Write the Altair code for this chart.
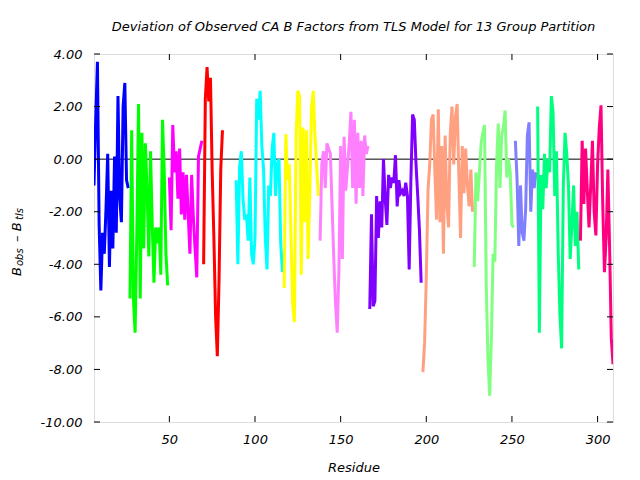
import altair as alt
import pandas as pd

# ---- data ----
group_names = ["G1", "G2", "G3", "G4", "G5", "G6", "G7", "G8", "G9", "G10", "G11", "G12", "G13"]
group_colors = ["#0000ff", "#00ff00", "#ff00ff", "#ff0000", "#00ffff", "#ffff00", "#ff80ff",
                "#8000ff", "#ffa080", "#80ff80", "#8080ff", "#00ff80", "#ff0080"]
group_start = [6, 27, 50, 70, 89, 117, 138, 167, 198, 228, 252, 265, 290]

g1 = [-1.0, 1.5, 3.7, -2.5, -5.0, -2.8, -3.6, -1.9, 0.2, -4.1, -1.2, -3.4, 0.1, -2.8, 2.4, -1.5, -2.4, 2.0, 2.9, -0.8, -1.1]
g2 = [-5.3, 1.1, -5.3, -6.6, -2.8, 2.1, -5.3, 1.0, -3.4, 0.6, -1.2, -3.7, 0.3, -2.5, -4.7, -2.6, -3.2, -2.6, -4.4, 1.5, -0.5, -3.6, -4.8]
g3 = [-0.7, -2.7, 1.3, -0.5, 0.3, -1.5, 0.4, -2.1, -0.5, -2.3, -0.6, -2.1, -3.6, -0.6, -2.2, -3.4, -4.5, 0.1, 0.4, 0.7]
g4 = [-4.0, 2.3, 3.5, 2.2, 3.1, -0.5, -3.0, -6.0, -7.5, -4.6, -0.4, 1.1]
g5 = [-0.8, -4.0, -0.3, 0.3, -1.5, -2.3, -2.1, -3.1, -0.7, -3.6, -4.0, -3.0, 2.3, 1.5, 2.6, 0.5, -0.4, -3.0, -4.2, -1.0, -1.4, 0.4, 1.0, -1.4, -0.2, 0.0, -3.2, -4.3]
g6 = [-4.9, 0.95, -0.8, -0.2, -2.9, -5.5, -6.2, 0.9, 2.6, 2.4, -4.4, 1.2, -2.4, 1.1, -3.8, -1.2, 2.0, 2.6, 0.9, -0.3, -1.4]
g7 = [-3.1, -0.2, 0.3, -1.1, 0.6, 0.4, 0.2, -1.8, -3.8, -5.5, -6.6, -4.2, 0.5, -3.8, 0.85, -1.2, -0.3, 0.6, 1.8, -1.1, 1.5, -1.7, 1.0, -1.1, 0.7, -1.4, 0.9, 0.2, 0.5]
g8 = [-5.7, -2.1, -5.6, -5.4, -1.4, -3.0, -1.6, -2.6, 0.0, -1.5, -2.5, -0.6, -1.1, -0.7, -0.9, 0.15, -1.8, -0.8, -1.3, -1.2, -1.4, -0.9, -1.4, -4.2, -0.8, 1.7, 1.5, -0.2, -1.4, -2.7, -4.7]
g9 = [-8.1, -7.0, -4.5, -1.2, -0.2, 1.5, 1.7, -0.5, -2.3, 1.9, -2.4, 0.5, -3.6, 0.9, -1.7, -2.6, 1.0, 2.0, -0.2, 1.6, 2.1, -0.6, -3.0, 0.5, -1.3, 0.4, -1.0, -1.8, -0.4, -2.0]
g10 = [-4.1, -0.5, -1.6, -0.5, 0.6, 1.0, 1.3, -4.8, -7.6, -9.0, -6.8, -3.6, -3.9, -0.3, 1.35, -1.1, 0.9, 1.2, 1.85, -0.7, 0.0, -0.5, -2.5, -2.6]
g11 = [0.7, -0.8, -3.3, -1.0, -2.8, -3.1, -1.9, 0.9, 1.4, -2.0, -0.4, -1.1, -0.5]
g12 = [2.0, -6.6, -0.6, -1.9, 0.2, -1.1, 0.0, -0.5, 2.4, 1.8, -1.4, 0.3, -3.5, -5.9, -7.2, -1.0, 1.0, 0.2, -1.0, -3.8, -2.5, -1.0, -3.3, -2.0, -4.2]
g13 = [-3.1, 0.7, -1.7, 0.4, -1.2, -2.6, -1.0, 0.7, -2.0, -2.9, -0.2, 1.2, 2.05, -1.7, -4.3, -3.0, -0.4, -3.3, -6.8, -7.8]
group_values = [g1, g2, g3, g4, g5, g6, g7, g8, g9, g10, g11, g12, g13]

y_ticks = [-10, -8, -6, -4, -2, 0, 2, 4]
x_ticks = [50, 100, 150, 200, 250, 300]
x_domain = [6, 309]
y_domain = [-10, 4]

title_text = "Deviation of Observed CA B Factors from TLS Model for 13 Group Partition"

rows = []
for name, start, vals in zip(group_names, group_start, group_values):
    for i, v in enumerate(vals):
        rows.append({"group": name, "residue": start + i, "dev": v})
df = pd.DataFrame(rows)

W, H = 519, 368
FONT = "DejaVu Sans"

xscale = alt.Scale(domain=x_domain, nice=False, zero=False)
yscale = alt.Scale(domain=y_domain, nice=False, zero=False)

lines = alt.Chart(df).mark_line(strokeWidth=3, clip=True).encode(
    x=alt.X("residue:Q", scale=xscale,
            axis=alt.Axis(values=x_ticks, title="Residue", grid=False, ticks=False, tickSize=0,
                          domain=False, labelPadding=11, labelFont=FONT, labelFontSize=13,
                          labelFontStyle="italic", labelColor="black",
                          titleFont=FONT, titleFontSize=13, titleFontStyle="italic",
                          titleFontWeight="normal", titleColor="black", titlePadding=15)),
    y=alt.Y("dev:Q", scale=yscale,
            axis=alt.Axis(values=y_ticks, title=None, grid=False, ticks=False, tickSize=0,
                          domain=False, labelPadding=12, labelFont=FONT, labelFontSize=13,
                          labelFontStyle="italic", labelColor="black",
                          labelExpr="replace(format(datum.value, '.2f'), '\u2212', '-')")),
    color=alt.Color("group:N", scale=alt.Scale(domain=group_names, range=group_colors), legend=None),
    detail="group:N",
)

zero = alt.Chart(pd.DataFrame({"z": [0]})).mark_rule(color="black", strokeWidth=1).encode(
    y=alt.Y("z:Q", scale=yscale)
)

ytk = pd.DataFrame({"v": y_ticks})
xtk = pd.DataFrame({"v": x_ticks})
yt_left = alt.Chart(ytk).mark_rule(color="black", strokeWidth=1).encode(
    y=alt.Y("v:Q", scale=yscale), x=alt.value(0), x2=alt.value(6))
yt_right = alt.Chart(ytk).mark_rule(color="black", strokeWidth=1).encode(
    y=alt.Y("v:Q", scale=yscale), x=alt.value(W - 6), x2=alt.value(W))
xt_bot = alt.Chart(xtk).mark_rule(color="black", strokeWidth=1).encode(
    x=alt.X("v:Q", scale=xscale), y=alt.value(H), y2=alt.value(H - 6))
xt_top = alt.Chart(xtk).mark_rule(color="black", strokeWidth=1).encode(
    x=alt.X("v:Q", scale=xscale), y=alt.value(0), y2=alt.value(6))

# y-axis title: B_obs - B_tls built from pieces
ylab_parts = ["B", "obs", "\u2013 B", "tls"]
def ypiece(txt, ypos, xpos, size):
    return alt.Chart(pd.DataFrame({"t": [txt]})).mark_text(
        angle=270, align="left", baseline="middle", font=FONT, fontSize=size,
        fontStyle="italic", color="black"
    ).encode(text="t:N", x=alt.value(xpos), y=alt.value(ypos))

ylabel = [
    ypiece(ylab_parts[0], 222, -77, 13),
    ypiece(ylab_parts[1], 212, -74, 10),
    ypiece(ylab_parts[2], 188, -77, 13),
    ypiece(ylab_parts[3], 166, -74, 10),
]

chart = alt.layer(zero, lines, yt_left, yt_right, xt_bot, xt_top, *ylabel).properties(
    width=W, height=H,
    autosize=alt.AutoSizeParams(type="none"),
    padding={"left": 86, "top": 46, "right": 19, "bottom": 58},
    title=alt.TitleParams(text=title_text, font=FONT, fontSize=13, fontStyle="italic",
                          fontWeight="normal", color="black", anchor="middle", offset=14),
).configure_view(stroke="black", strokeWidth=1).configure(background="white")

chart.save("out.html", embed_options={"renderer": "svg", "actions": False})
